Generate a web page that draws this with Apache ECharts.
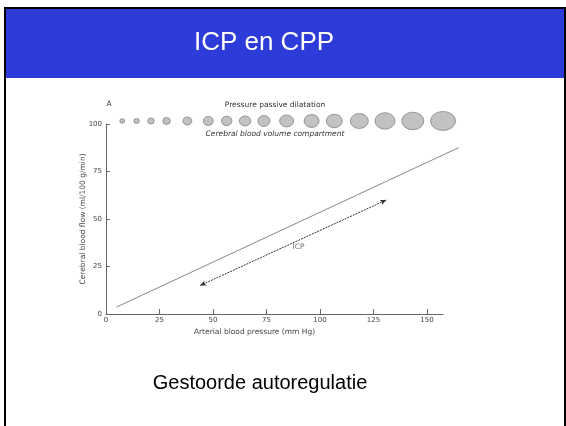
<!DOCTYPE html>
<html>
<head>
<meta charset="utf-8">
<script src="https://cdn.jsdelivr.net/npm/echarts@6/dist/echarts.min.js"></script>
<style>
  html, body { margin: 0; padding: 0; background: #fff; }
  #chart { width: 566px; height: 426px; }
</style>
</head>
<body>
<div id="chart"></div>
<script>
// passive pressure line (CBF vs ABP)
const lineX = [5, 165];
const lineY = [3.7, 87.6];

// ICP double arrow + label
const icpArrowFrom = [44, 15];
const icpArrowTo = [131, 60];
const icpLabel = [90, 35];

// cerebral blood volume compartment circles
const circleX = [7.6, 14.3, 21.0, 28.3, 38.0, 47.8, 56.4, 65.0, 73.8, 84.4, 96.1, 106.7, 118.4, 130.4, 143.4, 157.5];
const circleY = 101.6;
const circleW = [5, 5.5, 6.5, 7.5, 9, 10, 10.5, 11.5, 12, 14, 15, 16, 18, 20, 22, 25];
const circleH = [4.5, 5, 6, 7, 8, 9, 9.5, 10, 11, 12, 13, 13.5, 15, 16.5, 17.5, 19];

const smallFont = 'DejaVu Sans';

const chart = echarts.init(document.getElementById('chart'));

const option = {
  backgroundColor: '#fff',
  animation: false,
  // grid 0 carries the visible axes, grid 1 is the same scale stretched a bit further right
  grid: [
    { left: 106, top: 124, right: 123, bottom: 112 },
    { left: 106, top: 124, right: 105, bottom: 112 }
  ],
  xAxis: [
    {
      type: 'value',
      gridIndex: 0,
      min: 0,
      max: 157.5,
      interval: 25,
      name: 'Arterial blood pressure (mm Hg)',
      nameLocation: 'middle',
      nameGap: 14,
      nameMoveOverlap: false,
      nameTextStyle: { fontFamily: smallFont, fontSize: 7.5, color: '#444', padding: [0, 40, 0, 0] },
      axisLine: { lineStyle: { color: '#666', width: 1 } },
      axisTick: { inside: true, length: 5, lineStyle: { color: '#666' } },
      axisLabel: { fontFamily: smallFont, fontSize: 7, color: '#444', margin: 3 },
      splitLine: { show: false }
    },
    {
      type: 'value',
      gridIndex: 1,
      min: 0,
      max: 166,
      show: false
    }
  ],
  yAxis: [
    {
      type: 'value',
      gridIndex: 0,
      min: 0,
      max: 100,
      interval: 25,
      name: 'Cerebral blood flow (ml/100 g/min)',
      nameLocation: 'middle',
      nameGap: 19,
      nameMoveOverlap: false,
      nameTextStyle: { fontFamily: smallFont, fontSize: 7.5, color: '#444' },
      axisLine: { show: true, lineStyle: { color: '#666', width: 1 } },
      axisTick: { show: true, inside: true, length: 4, lineStyle: { color: '#666' } },
      axisLabel: { fontFamily: smallFont, fontSize: 7, color: '#444', margin: 4 },
      splitLine: { show: false }
    },
    {
      type: 'value',
      gridIndex: 1,
      min: 0,
      max: 100,
      show: false
    }
  ],
  series: [
    {
      type: 'line',
      xAxisIndex: 1,
      yAxisIndex: 1,
      data: lineX.map((x, i) => [x, lineY[i]]),
      showSymbol: false,
      lineStyle: { color: '#888', width: 1 },
      silent: true
    },
    {
      type: 'scatter',
      clip: false,
      data: circleX.map((x, i) => ({ value: [x, circleY], symbolSize: [circleW[i], circleH[i]] })),
      itemStyle: { color: '#b3b3b3', borderColor: '#6e6e6e', borderWidth: 0.8 },
      silent: true
    },
    {
      type: 'scatter',
      data: [icpLabel],
      symbolSize: 0,
      label: {
        show: true,
        position: 'inside',
        formatter: 'ICP',
        fontFamily: smallFont,
        fontSize: 7.5,
        color: '#444'
      },
      silent: true,
      markLine: {
        silent: true,
        symbol: ['arrow', 'arrow'],
        symbolSize: [4, 6],
        label: { show: false },
        lineStyle: { color: '#333', type: [2, 1], width: 1 },
        data: [[{ coord: icpArrowFrom }, { coord: icpArrowTo }]]
      }
    }
  ],
  graphic: [
    {
      type: 'rect',
      shape: { x: 5, y: 8, width: 560, height: 430 },
      style: { fill: 'none', stroke: '#000', lineWidth: 2 },
      z: 10
    },
    {
      type: 'rect',
      shape: { x: 6, y: 9, width: 559, height: 69 },
      style: { fill: '#2d3bd9' },
      z: 5
    },
    {
      type: 'text',
      x: 264, y: 43,
      style: { text: 'ICP en CPP', fill: '#fff', font: '26px "Liberation Sans", Arial, sans-serif', align: 'center', verticalAlign: 'middle' },
      z: 6
    },
    {
      type: 'text',
      x: 260, y: 383,
      style: { text: 'Gestoorde autoregulatie', fill: '#000', font: '20px "Liberation Sans", Arial, sans-serif', align: 'center', verticalAlign: 'middle' },
      z: 6
    },
    {
      type: 'text',
      x: 109, y: 104,
      style: { text: 'A', fill: '#333', font: '7.5px "DejaVu Sans"', align: 'center', verticalAlign: 'middle' }
    },
    {
      type: 'text',
      x: 275, y: 105,
      style: { text: 'Pressure passive dilatation', fill: '#333', font: '7.5px "DejaVu Sans"', align: 'center', verticalAlign: 'middle' }
    },
    {
      type: 'text',
      x: 275, y: 134,
      style: { text: 'Cerebral blood volume compartment', fill: '#333', font: 'italic 7.5px "DejaVu Sans"', align: 'center', verticalAlign: 'middle' }
    }
  ]
};

chart.setOption(option);
</script>
</body>
</html>
